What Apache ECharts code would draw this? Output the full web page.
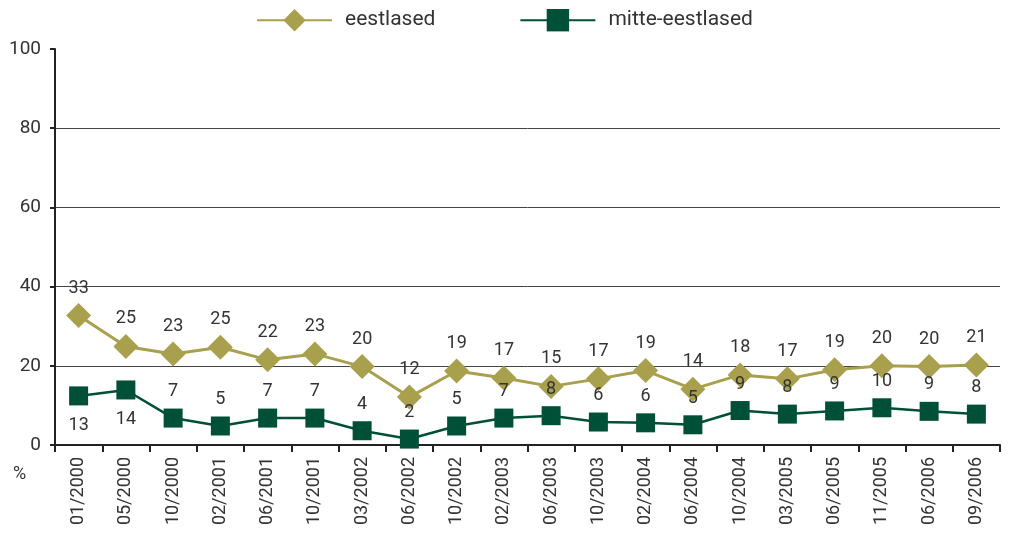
<!DOCTYPE html>
<html><head><meta charset="utf-8">
<script src="https://cdn.jsdelivr.net/npm/echarts@6/dist/echarts.min.js"></script>
<style>html,body{margin:0;padding:0;background:#fff}#c{width:1009px;height:541px}</style>
</head><body><div id="c"></div>
<script>
var categories = ['01/2000','05/2000','10/2000','02/2001','06/2001','10/2001','03/2002','06/2002','10/2002','02/2003','06/2003','10/2003','02/2004','06/2004','10/2004','03/2005','06/2005','11/2005','06/2006','09/2006'];
// plotted values
var eestlased = [32.7,24.9,23.0,24.7,21.5,23.0,19.8,12.1,18.7,16.9,14.8,16.7,18.8,14.1,17.7,16.7,19.0,20.0,19.8,20.2];
var mitte = [12.4,13.9,6.8,4.8,6.8,6.8,3.6,1.5,4.8,6.8,7.4,5.8,5.6,5.1,8.7,7.8,8.6,9.4,8.5,7.8];
// printed data labels
var eestlasedLabels = [33,25,23,25,22,23,20,12,19,17,15,17,19,14,18,17,19,20,20,21];
var mitteLabels = [13,14,7,5,7,7,4,2,5,7,8,6,6,5,9,8,9,10,9,8];
var yTicks = [0,20,40,60,80,100];

var FONT = 'Roboto';
var TXT = '#333';
var chart = echarts.init(document.getElementById('c'));
chart.setOption({
  animation: false,
  textStyle: {fontFamily: FONT},
  legend: {
    top: 4, left: 'center', itemGap: 84, itemWidth: 75, itemHeight: 28,
    textStyle: {fontSize: 21, color: TXT, fontFamily: FONT, padding: [0,0,0,8]},
    data: ['eestlased','mitte-eestlased']
  },
  grid: {left: 55, right: 9, top: 49, bottom: 96},
  xAxis: {
    type: 'category', data: categories, boundaryGap: true,
    axisLine: {lineStyle: {color: '#222', width: 2}},
    axisTick: {show: true, length: 7, lineStyle: {color: '#222', width: 2}},
    axisLabel: {rotate: 90, fontSize: 18, color: TXT, margin: 12, fontFamily: FONT}
  },
  yAxis: {
    type: 'value', min: 0, max: 100, interval: 20,
    axisLine: {show: true, lineStyle: {color: '#222', width: 2}},
    axisTick: {show: true, length: 5, lineStyle: {color: '#222', width: 2}},
    axisLabel: {fontSize: 19, color: TXT, margin: 14, fontFamily: FONT,
      formatter: function(v){ return yTicks.indexOf(v) >= 0 ? String(v) : ''; }},
    splitLine: {show: true, lineStyle: {color: ['transparent','#444','#444','#444','#444','transparent'], width: 1}}
  },
  graphic: [{type: 'text', left: 13, top: 465, style: {text: '%', fontSize: 18, fill: TXT, fontFamily: FONT}}],
  series: [
    {
      name: 'eestlased', type: 'line', data: eestlased,
      symbol: 'diamond', symbolSize: 25,
      itemStyle: {color: '#A9A04E'},
      lineStyle: {color: '#A9A04E', width: 3},
      label: {show: true, position: 'top', distance: 6, fontSize: 18, color: TXT, fontFamily: FONT,
        formatter: function(p){ return String(eestlasedLabels[p.dataIndex]); }},
      z: 3
    },
    {
      name: 'mitte-eestlased', type: 'line', data: mitte,
      symbol: 'rect', symbolSize: 19,
      itemStyle: {color: '#004F37'},
      lineStyle: {color: '#004F37', width: 2.5},
      label: {show: true, position: 'top', distance: 8, fontSize: 18, color: TXT, fontFamily: FONT,
        formatter: function(p){ return String(mitteLabels[p.dataIndex]); }},
      labelLayout: function(params){
        if (params.dataIndex < 2) {
          return {dy: params.labelRect.height + 38};
        }
        return {};
      },
      z: 4
    }
  ]
});
</script></body></html>
